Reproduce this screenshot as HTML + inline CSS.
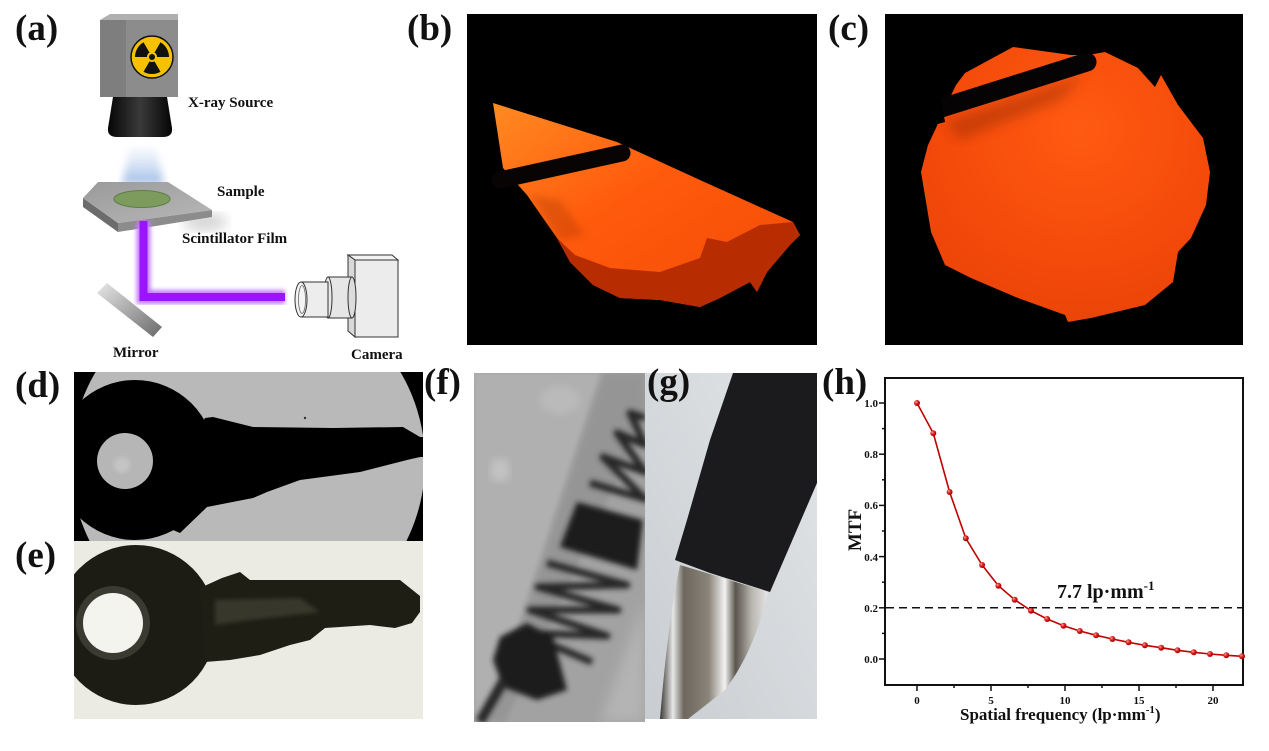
<!DOCTYPE html>
<html><head><meta charset="utf-8"><style>
html,body{margin:0;padding:0;background:#fff;}
svg{display:block;}
.lbl{font-family:"Liberation Serif",serif;font-weight:bold;font-size:37px;fill:#111;}
.t{font-family:"Liberation Serif",serif;font-weight:bold;fill:#111;}
</style></head><body>
<svg width="1269" height="751" viewBox="0 0 1269 751" xmlns="http://www.w3.org/2000/svg">
<defs>
 <filter id="blur2"><feGaussianBlur stdDeviation="2"/></filter>
 <filter id="blur1"><feGaussianBlur stdDeviation="1.2"/></filter>
 <filter id="blur3"><feGaussianBlur stdDeviation="2.6"/></filter>
 <filter id="blur4"><feGaussianBlur stdDeviation="4"/></filter>
 <filter id="blur6"><feGaussianBlur stdDeviation="6"/></filter>
 <linearGradient id="cone" x1="0" x2="1" y1="0" y2="0">
  <stop offset="0" stop-color="#050505"/><stop offset="0.5" stop-color="#3a3a3a"/><stop offset="1" stop-color="#050505"/>
 </linearGradient>
 <linearGradient id="glow" x1="0" x2="0" y1="0" y2="1">
  <stop offset="0" stop-color="#dbe6f6" stop-opacity="0.3"/><stop offset="1" stop-color="#9dbbe6" stop-opacity="1"/>
 </linearGradient>
 <linearGradient id="mirror" x1="0" x2="1" y1="0" y2="1">
  <stop offset="0" stop-color="#e8e8e8"/><stop offset="0.5" stop-color="#a8a8a8"/><stop offset="1" stop-color="#6a6a6a"/>
 </linearGradient>
 <linearGradient id="plateTop" x1="0" x2="1" y1="0" y2="1">
  <stop offset="0" stop-color="#9a9a9a"/><stop offset="1" stop-color="#b8b8b8"/>
 </linearGradient>
 <linearGradient id="orangeB" x1="0" x2="1" y1="0" y2="1">
  <stop offset="0" stop-color="#ff8a22"/><stop offset="0.45" stop-color="#ff5a0c"/><stop offset="1" stop-color="#f24a06"/>
 </linearGradient>
 <radialGradient id="orangeC" cx="0.55" cy="0.3" r="0.8">
  <stop offset="0" stop-color="#ff5a12"/><stop offset="0.6" stop-color="#f44a0a"/><stop offset="1" stop-color="#e84208"/>
 </radialGradient>
 <linearGradient id="gbg" x1="1" x2="0" y1="0" y2="1">
  <stop offset="0" stop-color="#e2e5e7"/><stop offset="1" stop-color="#c9cdd1"/>
 </linearGradient>
 <linearGradient id="metal" x1="0" x2="1" y1="0" y2="0">
  <stop offset="0" stop-color="#3a3632"/><stop offset="0.12" stop-color="#e8e8e8"/><stop offset="0.22" stop-color="#6d675e"/><stop offset="0.45" stop-color="#8a8479"/><stop offset="0.6" stop-color="#f2f2f2"/><stop offset="0.7" stop-color="#5a554d"/><stop offset="0.85" stop-color="#b9b6b0"/><stop offset="1" stop-color="#e6e6e6"/>
 </linearGradient>
 <radialGradient id="ball" cx="0.35" cy="0.35" r="0.7">
  <stop offset="0" stop-color="#ff9a9a"/><stop offset="0.5" stop-color="#d81818"/><stop offset="1" stop-color="#a00000"/>
 </radialGradient>
 <clipPath id="clipF"><rect x="474" y="373" width="171" height="349"/></clipPath>
 <clipPath id="clipG"><rect x="645" y="373" width="172" height="346"/></clipPath>
 <clipPath id="clipD"><rect x="74" y="372" width="349" height="169"/></clipPath>
 <clipPath id="clipE"><rect x="74" y="541" width="349" height="178"/></clipPath>
 <clipPath id="clipB"><rect x="467" y="14" width="350" height="331"/></clipPath>
 <clipPath id="clipC"><rect x="885" y="14" width="358" height="331"/></clipPath>
</defs>

<!-- ===== Panel (a) ===== -->
<polygon points="100,20 110,14 178,14 178,20" fill="#b0b0b0"/>
<rect x="100" y="20" width="78" height="77" fill="#8c8c8c"/>
<rect x="100" y="20" width="26" height="77" fill="#7e7e7e"/>
<circle cx="152" cy="57" r="21" fill="#f5c200" stroke="#111" stroke-width="1.5"/>
<path d="M135,57 A17,17 0 0 1 143.5,42.28 L149.5,52.67 A5,5 0 0 0 147,57 Z" fill="#111"/>
<path d="M160.5,42.28 A17,17 0 0 1 169,57 L157,57 A5,5 0 0 0 154.5,52.67 Z" fill="#111"/>
<path d="M160.5,71.72 A17,17 0 0 1 143.5,71.72 L149.5,61.33 A5,5 0 0 0 154.5,61.33 Z" fill="#111"/>
<circle cx="152" cy="57" r="3" fill="#111"/>
<path d="M113,97 L167,97 L172,128 Q173,137 163,137 L117,137 Q107,137 108,128 Z" fill="url(#cone)"/>
<path d="M130,148 L156,148 L164,184 L122,184 Z" fill="url(#glow)" filter="url(#blur4)"/>
<ellipse cx="205" cy="222" rx="22" ry="9" fill="#888" opacity="0.35" filter="url(#blur6)"/>
<polygon points="83,198 118,223 118,232 83,207" fill="#6c6c6c"/>
<polygon points="118,223 212,210 212,217 118,232" fill="#8c8c8c"/>
<polygon points="83,198 98,182 168,182 212,210 118,223" fill="url(#plateTop)"/>
<ellipse cx="142" cy="199" rx="28" ry="8.5" fill="#7d9b5d" stroke="#5f7d46" stroke-width="1"/>
<text class="t" x="217" y="196" font-size="15">Sample</text>
<text class="t" x="182" y="243" font-size="15">Scintillator Film</text>
<text class="t" x="188" y="107" font-size="15">X-ray Source</text>
<path d="M143.5,221 L143.5,297 L285,297" fill="none" stroke="#c47cff" stroke-width="14" filter="url(#blur2)"/>
<path d="M143.5,221 L143.5,297 L285,297" fill="none" stroke="#9b14ff" stroke-width="8"/>
<polygon points="107,283 97,293 153,337 162,327" fill="url(#mirror)"/>
<text class="t" x="113" y="357" font-size="15">Mirror</text>
<polygon points="348,255 392,255 398,260 355,260" fill="#f2f2f2" stroke="#333" stroke-width="1"/>
<polygon points="348,255 355,260 355,337 348,331" fill="#d8d8d8" stroke="#333" stroke-width="1"/>
<rect x="355" y="260" width="43" height="77" fill="#ececec" stroke="#333" stroke-width="1"/>
<rect x="328" y="277" width="24" height="41" fill="#e6e6e6" stroke="#333" stroke-width="1"/>
<ellipse cx="352" cy="297.5" rx="4" ry="20.5" fill="#dcdcdc" stroke="#333" stroke-width="1"/>
<ellipse cx="328" cy="297.5" rx="4" ry="20.5" fill="#e8e8e8" stroke="#333" stroke-width="1"/>
<rect x="301" y="282" width="27" height="35" fill="#ededed" stroke="#333" stroke-width="1"/>
<ellipse cx="301" cy="299.5" rx="6" ry="17.5" fill="#f4f4f4" stroke="#333" stroke-width="1"/>
<ellipse cx="302" cy="299.5" rx="3.5" ry="14" fill="none" stroke="#666" stroke-width="0.8"/>
<text class="t" x="351" y="359" font-size="15">Camera</text>

<!-- ===== Panel (b) ===== -->
<g clip-path="url(#clipB)">
<rect x="467" y="14" width="350" height="331" fill="#000"/>
<path d="M493,103 L617,142 L700,180 L793,222 L800,235 L790,245 L767,272 L757,292 L750,282 L720,298 L700,307 L660,300 L620,298 L593,285 L570,262 L557,238 L543,218 L527,195 L503,168 Z" fill="url(#orangeB)"/>
<path d="M557,238 L575,255 L610,268 L660,272 L700,258 L707,238 L727,242 L760,225 L793,222 L800,235 L790,245 L767,272 L757,292 L750,282 L720,298 L700,307 L660,300 L620,298 L593,285 L570,262 Z" fill="#b82c02"/>
<path d="M530,195 L560,240 L585,235 L560,200 Z" fill="#a03000" opacity="0.3" filter="url(#blur4)"/>
<line x1="500" y1="180" x2="622" y2="153" stroke="#080404" stroke-width="17" stroke-linecap="round"/>
</g>

<!-- ===== Panel (c) ===== -->
<g clip-path="url(#clipC)">
<rect x="885" y="14" width="358" height="331" fill="#000"/>
<path d="M1013,47 L1071,55 L1088,55 L1105,52 L1138,68 L1155,87 L1161,75 L1178,105 L1203,138 L1210,172 L1206,205 L1191,238 L1178,252 L1173,282 L1145,305 L1091,318 L1068,322 L1065,315 L1018,298 L971,278 L945,265 L931,232 L921,172 L928,145 L936,128 L940,118 L956,85 L965,73 Z" fill="url(#orangeC)"/>
<path d="M945,122 L1085,75 L1060,100 L960,140 Z" fill="#7a2000" opacity="0.35" filter="url(#blur6)"/>
<line x1="935" y1="110" x2="1087" y2="62" stroke="#050303" stroke-width="19" stroke-linecap="round"/>
<polygon points="915,98 940,94 945,122 915,130" fill="#000"/>
</g>

<!-- ===== Panel (d) ===== -->
<g clip-path="url(#clipD)">
 <rect x="74" y="372" width="349" height="169" fill="#000"/>
 <circle cx="248" cy="462" r="177" fill="#b9b9b9"/>
 <circle cx="135" cy="460" r="80" fill="#000"/>
 <path d="M205,418 L213,417 L253,427 L333,428 L403,427 L420,437 L430,437 L430,457 L420,457 L407,460 L360,472 L300,480 L267,492 L253,498 L207,507 L180,533 L150,520 Z" fill="#000"/>
 <circle cx="125" cy="461" r="28" fill="#b6b6b6"/>
 <circle cx="122" cy="465" r="8" fill="#c4c4c4" filter="url(#blur2)"/>
 <circle cx="305" cy="418" r="1.2" fill="#333"/>
</g>

<!-- ===== Panel (e) ===== -->
<g clip-path="url(#clipE)">
 <rect x="74" y="541" width="349" height="178" fill="#ebebe4"/>
 <circle cx="136" cy="625" r="80" fill="#1d1c14"/>
 <path d="M200,588 L222,578 L240,572 L250,580 L400,580 L420,596 L420,612 L412,623 L395,628 L370,625 L325,628 L310,640 L290,645 L260,655 L230,660 L205,662 Z" fill="#1f1e15"/>
 <path d="M215,600 L300,598 L320,612 L250,620 L215,625 Z" fill="#4a4a3a" opacity="0.6" filter="url(#blur2)"/>
 <circle cx="113" cy="623" r="37" fill="#3a3a30"/>
 <circle cx="113" cy="623" r="30" fill="#f4f4ee"/>
</g>

<!-- ===== Panel (f) ===== -->
<g clip-path="url(#clipF)">
 <rect x="474" y="373" width="171" height="349" fill="#a2a2a2"/>
 <polygon points="474,373 600,373 486,722 474,722" fill="#b0b0b0" filter="url(#blur2)"/>
 <ellipse cx="500" cy="470" rx="10" ry="12" fill="#c2c2c2" filter="url(#blur4)"/>
 <ellipse cx="560" cy="400" rx="20" ry="14" fill="#bababa" filter="url(#blur4)"/>
 <polygon points="604,373 645,373 645,420 505,722 490,722" fill="#959595" filter="url(#blur3)"/>
 <polygon points="645,600 645,722 600,722" fill="#b4b4b4" filter="url(#blur6)"/>
 <g filter="url(#blur3)" fill="#1c1c1c" stroke="#262626" stroke-linejoin="round">
  <polygon points="577,502 643,520 637,570 560,547" stroke="none"/>
  <polyline fill="none" stroke-width="7" points="547,563 627,585 538,587 618,610 530,610 607,636 523,633 592,662"/>
  <polyline fill="none" stroke-width="7" points="590,483 645,499 603,457 645,472 617,433 645,445 630,413 645,418"/>
  <polygon points="500,637 527,623 553,637 567,690 537,700 503,687 493,660" stroke="none"/>
  <line x1="504" y1="680" x2="480" y2="722" stroke-width="10"/>
 </g>
</g>

<!-- ===== Panel (g) ===== -->
<g clip-path="url(#clipG)">
 <rect x="645" y="373" width="172" height="346" fill="url(#gbg)"/>
 <polygon points="733,373 817,373 817,483 770,592 710,573 675,560 687,520 710,440" fill="#1b1b1d"/>
 <path d="M680,565 L710,574 L768,592 Q755,650 725,690 L688,719 L660,719 Q668,620 680,565 Z" fill="url(#metal)"/>
</g>

<!-- ===== Panel (h) ===== -->
<rect x="885" y="378" width="358" height="307" fill="none" stroke="#111" stroke-width="2"/>
<g stroke="#111" stroke-width="1.5">
 <line x1="879" y1="659" x2="885" y2="659"/><line x1="879" y1="607.8" x2="885" y2="607.8"/>
 <line x1="879" y1="556.6" x2="885" y2="556.6"/><line x1="879" y1="505.4" x2="885" y2="505.4"/>
 <line x1="879" y1="454.2" x2="885" y2="454.2"/><line x1="879" y1="403" x2="885" y2="403"/>
 <line x1="882" y1="633.4" x2="885" y2="633.4"/><line x1="882" y1="582.2" x2="885" y2="582.2"/>
 <line x1="882" y1="531" x2="885" y2="531"/><line x1="882" y1="479.8" x2="885" y2="479.8"/>
 <line x1="882" y1="428.6" x2="885" y2="428.6"/>
 <line x1="917" y1="685" x2="917" y2="691"/><line x1="991" y1="685" x2="991" y2="691"/>
 <line x1="1065" y1="685" x2="1065" y2="691"/><line x1="1139" y1="685" x2="1139" y2="691"/>
 <line x1="1213" y1="685" x2="1213" y2="691"/>
 <line x1="954" y1="685" x2="954" y2="688"/><line x1="1028" y1="685" x2="1028" y2="688"/>
 <line x1="1102" y1="685" x2="1102" y2="688"/><line x1="1176" y1="685" x2="1176" y2="688"/>
</g>
<g class="t" font-size="11" text-anchor="end">
 <text x="878" y="663">0.0</text><text x="878" y="612">0.2</text><text x="878" y="561">0.4</text>
 <text x="878" y="509">0.6</text><text x="878" y="458">0.8</text><text x="878" y="407">1.0</text>
</g>
<g class="t" font-size="11" text-anchor="middle">
 <text x="917" y="704">0</text><text x="991" y="704">5</text><text x="1065" y="704">10</text>
 <text x="1139" y="704">15</text><text x="1213" y="704">20</text>
</g>
<text class="t" font-size="19" text-anchor="middle" transform="translate(861,530) rotate(-90)">MTF</text>
<text class="t" font-size="17" x="960" y="720">Spatial frequency (lp·mm<tspan font-size="11" dy="-7">-1</tspan><tspan dy="7">)</tspan></text>
<line x1="886" y1="607.8" x2="1242" y2="607.8" stroke="#111" stroke-width="1.5" stroke-dasharray="8,5"/>
<text class="t" font-size="20" x="1057" y="598">7.7 lp·mm<tspan font-size="13" dy="-8">-1</tspan></text>
<polyline fill="none" stroke="#c00000" stroke-width="1.6" points="917,403 933.3,433.3 949.6,492 965.8,538.3 982.1,565 998.4,585.7 1014.7,599.7 1031,610.7 1047.2,619 1063.5,625.7 1079.8,631 1096.1,635.3 1112.4,639 1128.6,642.3 1144.9,645.3 1161.2,647.7 1177.5,650.3 1193.8,652.3 1210,654 1226.3,655.3 1242.6,656.3"/>
<g fill="url(#ball)">
 <circle cx="917" cy="403" r="3"/><circle cx="933.3" cy="433.3" r="3"/><circle cx="949.6" cy="492" r="3"/>
 <circle cx="965.8" cy="538.3" r="3"/><circle cx="982.1" cy="565" r="3"/><circle cx="998.4" cy="585.7" r="3"/>
 <circle cx="1014.7" cy="599.7" r="3"/><circle cx="1031" cy="610.7" r="3"/><circle cx="1047.2" cy="619" r="3"/>
 <circle cx="1063.5" cy="625.7" r="3"/><circle cx="1079.8" cy="631" r="3"/><circle cx="1096.1" cy="635.3" r="3"/>
 <circle cx="1112.4" cy="639" r="3"/><circle cx="1128.6" cy="642.3" r="3"/><circle cx="1144.9" cy="645.3" r="3"/>
 <circle cx="1161.2" cy="647.7" r="3"/><circle cx="1177.5" cy="650.3" r="3"/><circle cx="1193.8" cy="652.3" r="3"/>
 <circle cx="1210" cy="654" r="3"/><circle cx="1226.3" cy="655.3" r="3"/><circle cx="1242" cy="656.3" r="3"/>
</g>

<!-- ===== Panel labels (drawn last so they sit on top) ===== -->
<text class="lbl" x="15" y="40">(a)</text>
<text class="lbl" x="407" y="40">(b)</text>
<text class="lbl" x="828" y="40">(c)</text>
<text class="lbl" x="15" y="397">(d)</text>
<text class="lbl" x="15" y="567">(e)</text>
<text class="lbl" x="424" y="394">(f)</text>
<text class="lbl" x="647" y="394">(g)</text>
<text class="lbl" x="822" y="394">(h)</text>
</svg>
</body></html>
